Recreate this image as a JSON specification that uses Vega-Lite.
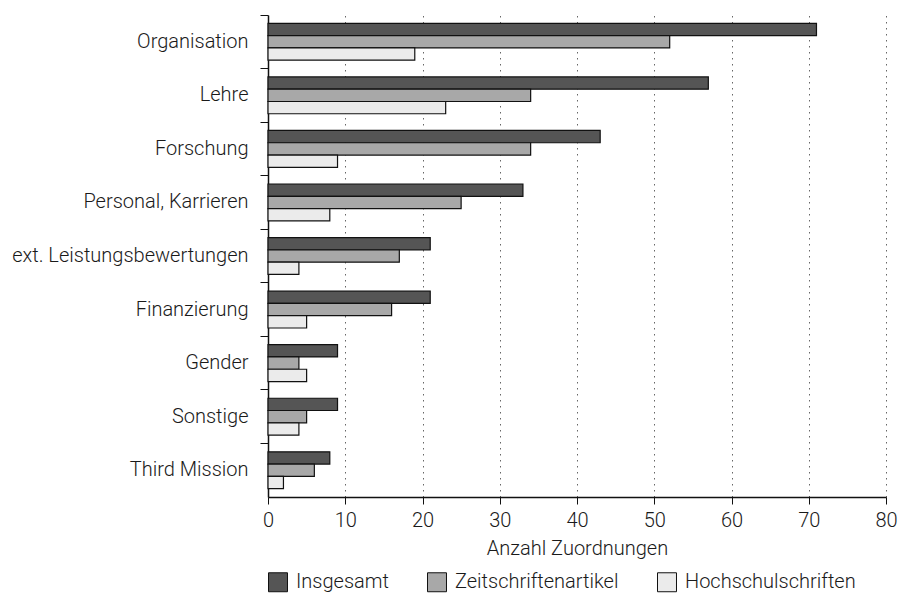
{
  "$schema": "https://vega.github.io/schema/vega-lite/v6.json",
  "width": 618,
  "height": 482,
  "autosize": {"type": "none"},
  "padding": {"left": 268, "top": 15, "right": 14, "bottom": 111},
  "background": "white",
  "config": {
    "font": "Roboto",
    "view": {"stroke": null},
    "axis": {"labelFont": "Roboto", "titleFont": "Roboto", "labelFontWeight": 300, "titleFontWeight": 300, "labelColor": "#1a1a1a", "titleColor": "#1a1a1a", "domainColor": "#111", "tickColor": "#111"},
    "legend": {"labelFont": "Roboto", "labelFontWeight": 300, "labelColor": "#1a1a1a"}
  },
  "data": {
    "values": [
      {"category": "Organisation", "series": "Insgesamt", "value": 71},
      {"category": "Organisation", "series": "Zeitschriftenartikel", "value": 52},
      {"category": "Organisation", "series": "Hochschulschriften", "value": 19},
      {"category": "Lehre", "series": "Insgesamt", "value": 57},
      {"category": "Lehre", "series": "Zeitschriftenartikel", "value": 34},
      {"category": "Lehre", "series": "Hochschulschriften", "value": 23},
      {"category": "Forschung", "series": "Insgesamt", "value": 43},
      {"category": "Forschung", "series": "Zeitschriftenartikel", "value": 34},
      {"category": "Forschung", "series": "Hochschulschriften", "value": 9},
      {"category": "Personal, Karrieren", "series": "Insgesamt", "value": 33},
      {"category": "Personal, Karrieren", "series": "Zeitschriftenartikel", "value": 25},
      {"category": "Personal, Karrieren", "series": "Hochschulschriften", "value": 8},
      {"category": "ext. Leistungsbewertungen", "series": "Insgesamt", "value": 21},
      {"category": "ext. Leistungsbewertungen", "series": "Zeitschriftenartikel", "value": 17},
      {"category": "ext. Leistungsbewertungen", "series": "Hochschulschriften", "value": 4},
      {"category": "Finanzierung", "series": "Insgesamt", "value": 21},
      {"category": "Finanzierung", "series": "Zeitschriftenartikel", "value": 16},
      {"category": "Finanzierung", "series": "Hochschulschriften", "value": 5},
      {"category": "Gender", "series": "Insgesamt", "value": 9},
      {"category": "Gender", "series": "Zeitschriftenartikel", "value": 4},
      {"category": "Gender", "series": "Hochschulschriften", "value": 5},
      {"category": "Sonstige", "series": "Insgesamt", "value": 9},
      {"category": "Sonstige", "series": "Zeitschriftenartikel", "value": 5},
      {"category": "Sonstige", "series": "Hochschulschriften", "value": 4},
      {"category": "Third Mission", "series": "Insgesamt", "value": 8},
      {"category": "Third Mission", "series": "Zeitschriftenartikel", "value": 6},
      {"category": "Third Mission", "series": "Hochschulschriften", "value": 2}
    ]
  },
  "mark": {"type": "bar", "stroke": "#111", "strokeWidth": 1.2},
  "encoding": {
    "y": {
      "field": "category",
      "type": "nominal",
      "sort": ["Organisation", "Lehre", "Forschung", "Personal, Karrieren", "ext. Leistungsbewertungen", "Finanzierung", "Gender", "Sonstige", "Third Mission"],
      "scale": {"paddingInner": 0, "paddingOuter": 0},
      "axis": {"title": null, "bandPosition": 0, "tickSize": 8, "labelPadding": 12, "labelFontSize": 20, "labelLimit": 0, "grid": false, "domainWidth": 1.5}
    },
    "yOffset": {
      "field": "series",
      "type": "nominal",
      "sort": ["Insgesamt", "Zeitschriftenartikel", "Hochschulschriften"],
      "scale": {"paddingInner": 0, "paddingOuter": 0.68}
    },
    "x": {
      "field": "value",
      "type": "quantitative",
      "scale": {"domain": [0, 80], "nice": false},
      "axis": {"title": "Anzahl Zuordnungen", "values": [0, 10, 20, 30, 40, 50, 60, 70, 80], "labelFlush": false, "tickSize": 7, "labelPadding": 6, "labelFontSize": 20, "titleFontSize": 20, "titlePadding": 8, "grid": true, "gridDash": [1.5, 4.5], "gridColor": "#666", "gridWidth": 1, "domainWidth": 1.5}
    },
    "fill": {
      "field": "series",
      "type": "nominal",
      "sort": ["Insgesamt", "Zeitschriftenartikel", "Hochschulschriften"],
      "scale": {"domain": ["Insgesamt", "Zeitschriftenartikel", "Hochschulschriften"], "range": ["#555555", "#a8a8a8", "#ebebeb"]},
      "legend": {"title": null, "orient": "bottom", "direction": "horizontal", "symbolType": "square", "symbolSize": 360, "symbolStrokeColor": "#111", "symbolStrokeWidth": 1, "labelFontSize": 20, "labelLimit": 0, "columnPadding": 36, "labelOffset": 8, "offset": 14}
    }
  }
}
